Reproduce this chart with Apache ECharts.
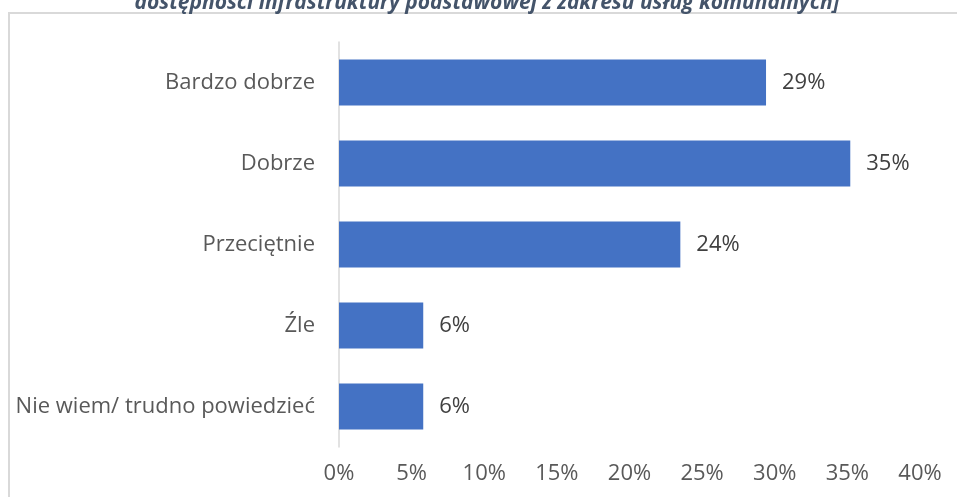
<!DOCTYPE html>
<html>
<head>
<meta charset="utf-8">
<script src="https://cdn.jsdelivr.net/npm/echarts@6/dist/echarts.min.js"></script>
<style>
html,body{margin:0;padding:0;background:#fff;}
#chart{width:957px;height:497px;}
</style>
</head>
<body>
<div id="chart"></div>
<script>
var categories = ['Bardzo dobrze', 'Dobrze', 'Przeciętnie', 'Źle', 'Nie wiem/ trudno powiedzieć'];
var values = [29.4, 35.2, 23.5, 5.8, 5.8];
var tickMin = 0, tickMax = 40, tickStep = 5;
var titleText = 'dostępności infrastruktury podstawowej z zakresu usług komunalnych]';

var chart = echarts.init(document.getElementById('chart'), null, {renderer: 'canvas'});
var FONT = 'Open Sans';
chart.setOption({
  backgroundColor: '#ffffff',
  animation: false,
  graphic: [
    {type: 'rect', shape: {x: 9, y: 13, width: 1000, height: 600},
     style: {fill: 'none', stroke: '#d9d9d9', lineWidth: 2}, z: 0},
    {type: 'text', x: 487, y: 3,
     style: {text: titleText, fill: '#44546A', font: 'italic bold 21px "Open Sans"',
             textAlign: 'center', textVerticalAlign: 'middle'}, z: 10}
  ],
  grid: {left: 339, right: 37, top: 42, height: 405, containLabel: false},
  xAxis: {
    type: 'value', min: tickMin, max: tickMax, interval: tickStep,
    axisLine: {show: false}, axisTick: {show: false}, splitLine: {show: false},
    axisLabel: {formatter: '{value}%', color: '#595959', fontSize: 22, fontFamily: FONT, margin: 16}
  },
  yAxis: {
    type: 'category', data: categories, inverse: true,
    axisLine: {show: true, lineStyle: {color: '#d9d9d9', width: 1.5}},
    axisTick: {show: false},
    axisLabel: {color: '#595959', fontSize: 22, fontFamily: FONT, margin: 24}
  },
  series: [{
    type: 'bar', data: values, barWidth: 46,
    itemStyle: {color: '#4472C4'},
    label: {show: true, position: 'right', distance: 16, color: '#404040', fontSize: 22, fontFamily: FONT,
            formatter: function(p){ return Math.round(p.value) + '%'; }}
  }]
});
</script>
</body>
</html>
